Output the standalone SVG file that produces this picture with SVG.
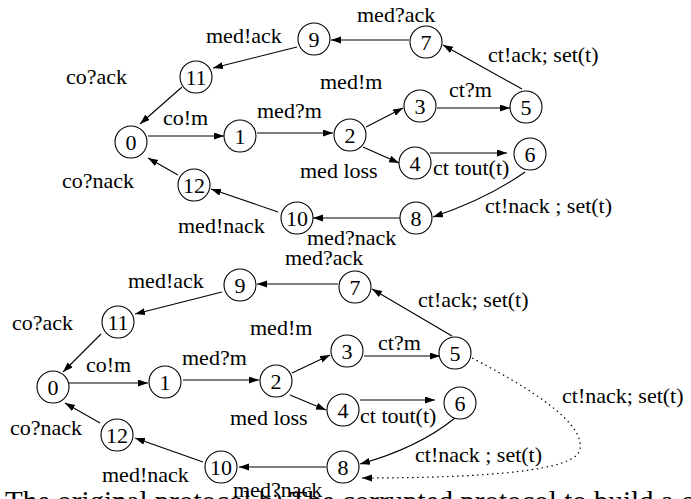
<svg xmlns="http://www.w3.org/2000/svg" width="691" height="499" viewBox="0 0 691 499">
<style>
text{font-family:"Liberation Serif","Times New Roman",serif;font-size:22px;fill:#000}
.n circle{fill:#fff;stroke:#000;stroke-width:1.1}
.n text{text-anchor:middle}
.e{fill:none;stroke:#000;stroke-width:1.1;marker-end:url(#ah)}
.d{fill:none;stroke:#000;stroke-width:1.2;stroke-dasharray:1.5 3.5;marker-end:url(#ah)}
</style>
<defs>
<marker id="ah" markerUnits="userSpaceOnUse" markerWidth="11" markerHeight="8" refX="10" refY="3.5" orient="auto">
<path d="M0,0 L10,3.5 L0,7 z" fill="#000"/>
</marker>
</defs>
<rect width="691" height="499" fill="#fff"/>
<g id="connectors">
<line class="e" x1="409" y1="40" x2="331" y2="40"/>
<line class="e" x1="297" y1="47" x2="213" y2="68"/>
<line class="e" x1="182" y1="87" x2="140" y2="124"/>
<line class="e" x1="148" y1="136" x2="224" y2="136"/>
<line class="e" x1="257" y1="133" x2="333" y2="133"/>
<line class="e" x1="366" y1="127" x2="403" y2="108"/>
<line class="e" x1="363" y1="147" x2="399" y2="163"/>
<line class="e" x1="437" y1="108" x2="510" y2="108"/>
<line class="e" x1="430" y1="153" x2="507" y2="153"/>
<line class="e" x1="522" y1="89" x2="443" y2="45"/>
<path class="e" d="M525,172 Q487,199 433,217"/>
<line class="e" x1="400" y1="218" x2="313" y2="218"/>
<line class="e" x1="278" y1="212" x2="211" y2="189"/>
<line class="e" x1="178" y1="175" x2="148" y2="158"/>

<line class="e" x1="338" y1="284" x2="257" y2="284"/>
<line class="e" x1="222" y1="292" x2="135" y2="314"/>
<line class="e" x1="101" y1="334" x2="63" y2="372"/>
<line class="e" x1="69" y1="383" x2="148" y2="383"/>
<line class="e" x1="183" y1="380" x2="259" y2="380"/>
<line class="e" x1="292" y1="373" x2="330" y2="355"/>
<line class="e" x1="290" y1="395" x2="326" y2="410"/>
<line class="e" x1="364" y1="356" x2="440" y2="356"/>
<line class="e" x1="360" y1="400" x2="435" y2="400"/>
<line class="e" x1="452" y1="336" x2="372" y2="289"/>
<path class="e" d="M455,418 Q418,448 360,464"/>
<line class="e" x1="326" y1="467" x2="239" y2="467"/>
<line class="e" x1="203" y1="462" x2="135" y2="438"/>
<line class="e" x1="100" y1="423" x2="65" y2="403"/>
<path class="d" d="M472,358 Q592,420 579,452 Q566,478 362,478"/>
</g>
<g id="top-nodes">
<g class="n" id="t0"><circle cx="131" cy="142" r="16"/><text x="131" y="150">0</text></g>
<g class="n" id="t1"><circle cx="240" cy="136" r="16"/><text x="240" y="144">1</text></g>
<g class="n" id="t2"><circle cx="350" cy="135" r="16"/><text x="350" y="143">2</text></g>
<g class="n" id="t3"><circle cx="420" cy="106" r="16"/><text x="420" y="114">3</text></g>
<g class="n" id="t4"><circle cx="415" cy="163" r="16"/><text x="415" y="171">4</text></g>
<g class="n" id="t5"><circle cx="526" cy="107" r="16"/><text x="526" y="115">5</text></g>
<g class="n" id="t6"><circle cx="530" cy="154" r="16"/><text x="530" y="162">6</text></g>
<g class="n" id="t7"><circle cx="426" cy="42" r="16"/><text x="426" y="50">7</text></g>
<g class="n" id="t8"><circle cx="416" cy="218" r="16"/><text x="416" y="226">8</text></g>
<g class="n" id="t9"><circle cx="314" cy="39" r="16"/><text x="314" y="47">9</text></g>
<g class="n" id="t10"><circle cx="297" cy="218" r="16"/><text x="297" y="226">10</text></g>
<g class="n" id="t11"><circle cx="196" cy="77" r="16"/><text x="196" y="85">11</text></g>
<g class="n" id="t12"><circle cx="194" cy="185" r="16"/><text x="194" y="193">12</text></g>
</g>
<g id="top-labels">
<text x="357" y="22">med?ack</text>
<text x="206" y="43">med!ack</text>
<text x="66" y="84">co?ack</text>
<text x="488" y="62">ct!ack; set(t)</text>
<text x="320" y="89">med!m</text>
<text x="449" y="97">ct?m</text>
<text x="163" y="125">co!m</text>
<text x="257" y="118">med?m</text>
<text x="300" y="178">med loss</text>
<text x="433" y="175">ct tout(t)</text>
<text x="62" y="188">co?nack</text>
<text x="485" y="213">ct!nack ; set(t)</text>
<text x="178" y="233">med!nack</text>
<text x="307" y="245">med?nack</text>
</g>
<g id="bottom-nodes">
<g class="n" id="b0"><circle cx="53" cy="387" r="16"/><text x="53" y="395">0</text></g>
<g class="n" id="b1"><circle cx="165" cy="382" r="16"/><text x="165" y="390">1</text></g>
<g class="n" id="b2"><circle cx="276" cy="381" r="16"/><text x="276" y="389">2</text></g>
<g class="n" id="b3"><circle cx="347" cy="351" r="16"/><text x="347" y="359">3</text></g>
<g class="n" id="b4"><circle cx="343" cy="410" r="16"/><text x="343" y="418">4</text></g>
<g class="n" id="b5"><circle cx="455" cy="353" r="16"/><text x="455" y="361">5</text></g>
<g class="n" id="b6"><circle cx="460" cy="403" r="16"/><text x="460" y="411">6</text></g>
<g class="n" id="b7"><circle cx="355" cy="287" r="16"/><text x="355" y="295">7</text></g>
<g class="n" id="b8"><circle cx="343" cy="467" r="16"/><text x="343" y="475">8</text></g>
<g class="n" id="b9"><circle cx="240" cy="285" r="16"/><text x="240" y="293">9</text></g>
<g class="n" id="b10"><circle cx="221" cy="467" r="16"/><text x="221" y="475">10</text></g>
<g class="n" id="b11"><circle cx="118" cy="322" r="16"/><text x="118" y="330">11</text></g>
<g class="n" id="b12"><circle cx="117" cy="435" r="16"/><text x="117" y="443">12</text></g>
</g>
<g id="bottom-labels">
<text x="285" y="265">med?ack</text>
<text x="128" y="288">med!ack</text>
<text x="12" y="330">co?ack</text>
<text x="418" y="307">ct!ack; set(t)</text>
<text x="250" y="335">med!m</text>
<text x="378" y="350">ct?m</text>
<text x="86" y="372">co!m</text>
<text x="182" y="365">med?m</text>
<text x="562" y="403">ct!nack; set(t)</text>
<text x="230" y="425">med loss</text>
<text x="360" y="423">ct tout(t)</text>
<text x="10" y="435">co?nack</text>
<text x="415" y="462">ct!nack ; set(t)</text>
<text x="102" y="482">med!nack</text>
<text x="233" y="497">med?nack</text>
</g>
<text x="5" y="511" style="font-size:29px">The original protocol b) The corrupted protocol to build a c</text>
</svg>
